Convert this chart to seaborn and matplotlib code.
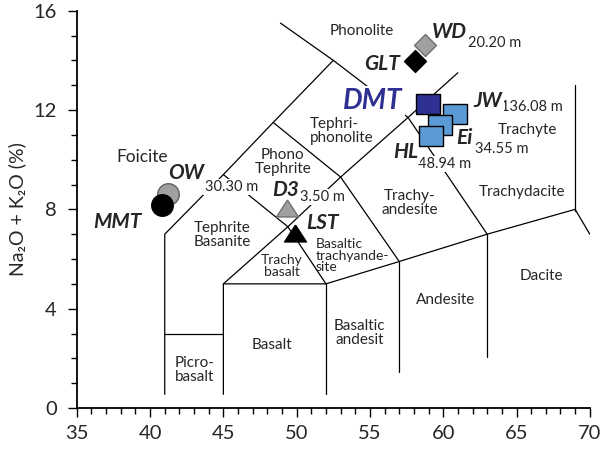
import pandas as pd
import seaborn as sns
import matplotlib.pyplot as plt

# ---- TAS boundaries (SiO2, Na2O+K2O) ----
seg_names = ['foid', 'picro_h', 'main_diag', 'lower', 'v52', 'v57', 'v63', 'v69',
             'tephrite', 'phonotephrite', 'phonolite']
seg_x = [
    [41, 41, 45, 48.4, 52.5],
    [41, 45],
    [45, 45, 49.4, 53, 57.6, 61],
    [45, 52, 57, 63, 69, 70],
    [52, 52],
    [57, 57],
    [63, 63],
    [69, 69],
    [45, 49.4, 52],
    [48.4, 53, 57],
    [48.9, 52.5, 57.6, 63],
]
seg_y = [
    [0.55, 7, 9.4, 11.5, 14],
    [3, 3],
    [0.55, 5, 7.3, 9.3, 11.7, 13.5],
    [5, 5, 5.9, 7, 8, 7],
    [0.55, 5],
    [1.45, 5.9],
    [2.05, 7],
    [7.95, 13],
    [9.4, 7.3, 5],
    [11.5, 9.3, 5.9],
    [15.5, 14, 11.7, 7],
]

# ---- samples ----
samples = ['OW', 'MMT', 'D3', 'LST', 'WD', 'GLT', 'JW', 'Ei', 'HL', 'DMT']
sio2 = [41.25, 40.8, 49.37, 49.9, 58.74, 58.06, 60.83, 59.76, 59.15, 58.96]
alk = [8.62, 8.18, 8.05, 7.05, 14.62, 13.97, 11.83, 11.40, 10.95, 12.23]
rect = [(-1.2, -1), (1.2, -1), (1.2, 1), (-1.2, 1), (-1.2, -1)]
tri = [(0, 0.77), (-1, -0.77), (1, -0.77), (0, 0.77)]
markers = ['o', 'o', tri, tri, 'D', 'D', rect, rect, rect, rect]
sizes = [240, 240, 250, 250, 125, 125, 300, 300, 300, 300]
fills = ['#a0a0a0', 'black', '#a0a0a0', 'black', '#a0a0a0', 'black',
         '#5b9bd5', '#5b9bd5', '#5b9bd5', '#2e3192']
edges = ['#606060', 'black', '#707070', 'black', '#707070', 'black',
         'black', 'black', 'black', 'black']

# ---- texts ----
field_names = ['Phono\nTephrite', 'Tephri-\nphonolite', 'Tephrite\nBasanite',
               'Picro-\nbasalt', 'Basalt', 'Basaltic\nandesit', 'Andesite', 'Dacite',
               'Trachy-\nandesite', 'Trachydacite', 'Trachyte', 'Phonolite']
field_x = [49.05, 53.08, 44.89, 43.05, 48.3, 54.31, 60.18, 66.73,
           57.72, 65.36, 65.77, 54.44]
field_y = [9.91, 11.16, 6.97, 1.53, 2.54, 3.02, 4.35, 5.32,
           8.26, 8.7, 11.2, 15.18]

small_names = ['Trachy\nbasalt', 'Basaltic\ntrachyande-\nsite']
small_x = [48.99, 51.31]
small_y = [5.72, 6.14]
small_ha = ['center', 'left']

name_x = [42.44, 37.8, 49.26, 51.78, 60.45, 55.81, 63.04, 61.47, 57.45]
name_y = [9.46, 7.49, 8.78, 7.45, 15.14, 13.85, 12.36, 10.87, 10.31]
name_txt = ['OW', 'MMT', 'D3', 'LST', 'WD', 'GLT', 'JW', 'Ei', 'HL']

depth_txt = ['30.30 m', '3.50 m', '20.20 m', '136.08 m', '34.55 m', '48.94 m']
depth_x = [45.54, 51.78, 63.52, 66.04, 64.0, 60.11]
depth_y = [8.9, 8.5, 14.7, 12.12, 10.43, 9.83]

sns.set_style('ticks')
plt.rcParams['font.family'] = ['Lato', 'DejaVu Sans']

fig = plt.figure(figsize=(6, 4.51), dpi=100)
ax = fig.add_axes([0.128, 0.0953, 0.855, 0.881])

rows = []
for name, xs, ys in zip(seg_names, seg_x, seg_y):
    for i, (a, b) in enumerate(zip(xs, ys)):
        rows.append({'seg': name, 'order': i, 'x': a, 'y': b})
lines = pd.DataFrame(rows)
sns.lineplot(data=lines, x='x', y='y', units='seg', estimator=None, sort=False,
             color='black', lw=0.9, ax=ax, zorder=1)

wbox = dict(boxstyle='square,pad=0.08', fc='white', ec='none')

ax.text(39.43, 10.11, 'Foicite', ha='center', va='center', fontsize=12.5, zorder=2)
for t, x, y in zip(field_names, field_x, field_y):
    ax.text(x, y, t, ha='center', va='center', fontsize=11,
            multialignment='left' if t.startswith('Tephri-') else 'center',
            linespacing=1.0, zorder=2)
for t, x, y, ha in zip(small_names, small_x, small_y, small_ha):
    ax.text(x, y, t, ha=ha, va='center', fontsize=10, linespacing=0.92,
            multialignment=ha, zorder=2)
for t, x, y in zip(depth_txt, depth_x, depth_y):
    ax.text(x, y, t, ha='center', va='center', fontsize=10.5, bbox=wbox, zorder=3)
for t, x, y in zip(name_txt, name_x, name_y):
    ax.text(x, y, t, ha='center', va='center', fontsize=15, fontweight='bold',
            fontstyle='italic', bbox=wbox, zorder=3.5)
ax.text(55.2, 12.36, 'DMT', ha='center', va='center', fontsize=20,
        fontweight='bold', fontstyle='italic', color='#2e3192', bbox=wbox, zorder=3.5)

df = pd.DataFrame({'sample': samples, 'SiO2': sio2, 'alk': alk})
for i in range(len(samples)):
    sns.scatterplot(data=df.iloc[[i]], x='SiO2', y='alk', marker=markers[i],
                    s=sizes[i], color=fills[i], edgecolor=edges[i], linewidth=1,
                    ax=ax, zorder=4 + i, legend=False)

ax.set_xlim(35, 70)
ax.set_ylim(0, 16)
ax.set_xticks(range(35, 71, 5))
ax.set_xticks(range(35, 71), minor=True)
ax.set_yticks(range(0, 17, 4))
ax.set_yticks(range(0, 17), minor=True)
ax.tick_params(which='major', length=6.5, width=1, labelsize=14.5, color='black')
ax.tick_params(axis='y', which='major', pad=8)
ax.tick_params(axis='x', which='major', pad=6)
ax.tick_params(which='minor', length=4.3, width=1, color='black')
for s in ['top', 'right']:
    ax.spines[s].set_visible(False)
for s in ['left', 'bottom']:
    ax.spines[s].set_linewidth(1.3)
    ax.spines[s].set_color('black')
ax.set_xlabel('')
ax.set_ylabel('Na₂O + K₂O (%)', fontsize=14, labelpad=5)

fig.savefig('out.png', dpi=100)
